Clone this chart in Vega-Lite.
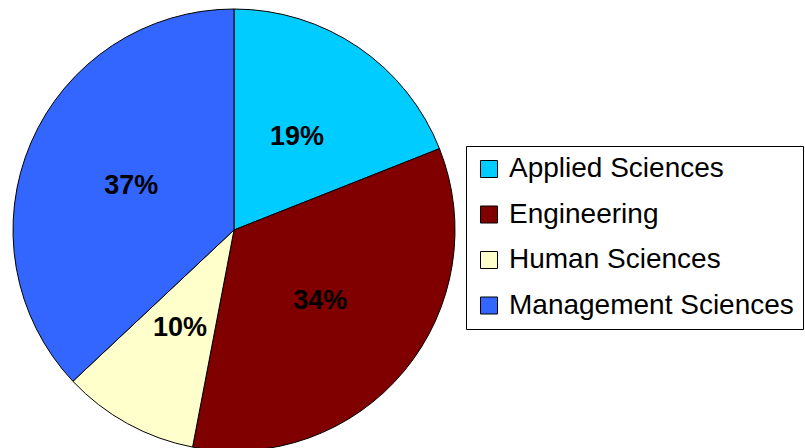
{
  "$schema": "https://vega.github.io/schema/vega-lite/v6.json",
  "width": 440,
  "height": 440,
  "padding": {"left": 11, "top": 7, "right": 0, "bottom": 0},
  "background": "white",
  "config": {"view": {"stroke": null}},
  "data": {
    "values": [
      {"category": "Applied Sciences", "value": 19, "label": "19%", "order": 1},
      {"category": "Engineering", "value": 34, "label": "34%", "order": 2},
      {"category": "Human Sciences", "value": 10, "label": "10%", "order": 3},
      {"category": "Management Sciences", "value": 37, "label": "37%", "order": 4}
    ]
  },
  "encoding": {
    "theta": {"field": "value", "type": "quantitative", "stack": true},
    "order": {"field": "order", "type": "quantitative"}
  },
  "layer": [
    {
      "mark": {"type": "arc", "stroke": "black", "strokeWidth": 1, "outerRadius": 221},
      "encoding": {
        "color": {
          "field": "category",
          "type": "nominal",
          "scale": {
            "domain": ["Applied Sciences", "Engineering", "Human Sciences", "Management Sciences"],
            "range": ["#00CCFF", "#800000", "#FFFFCC", "#3366FF"]
          },
          "legend": {
            "orient": "none",
            "legendX": 452,
            "legendY": 136,
            "title": null,
            "strokeColor": "black",
            "fillColor": "white",
            "padding": 9,
            "labelFontSize": 28,
            "labelFont": "Liberation Sans",
            "labelColor": "black",
            "labelLimit": 400,
            "symbolType": "square",
            "symbolSize": 289,
            "symbolStrokeColor": "black",
            "symbolStrokeWidth": 1,
            "symbolOpacity": 1,
            "rowPadding": 17.5,
            "labelOffset": 6
          }
        }
      }
    },
    {
      "mark": {"type": "text", "radius": 112, "fontSize": 27, "font": "Liberation Sans", "fontWeight": "bold", "color": "black"},
      "encoding": {
        "text": {"field": "label", "type": "nominal"}
      }
    }
  ]
}
